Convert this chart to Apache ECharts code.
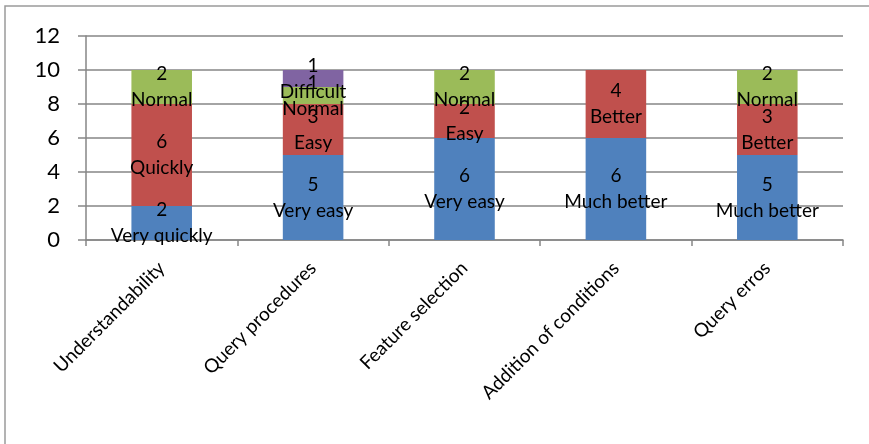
<!DOCTYPE html>
<html>
<head>
<meta charset="utf-8">
<script src="https://cdn.jsdelivr.net/npm/echarts@6/dist/echarts.min.js"></script>
<style>
  html, body { margin: 0; padding: 0; background: #fff; }
  #chart { width: 869px; height: 444px; }
</style>
</head>
<body>
<div id="chart"></div>
<script>
// Survey ratings per aspect of the query tool
const categories = ['Understandability', 'Query procedures', 'Feature selection', 'Addition of conditions', 'Query erros'];

// Counts of answers per rating level (null = no answers)
const level1Values = [2, 5, 6, 6, 5];
const level2Values = [6, 3, 2, 4, 3];
const level3Values = [2, 1, 2, null, 2];
const level4Values = [null, 1, null, null, null];

// Wording of each rating level, per aspect
const level1Names = ['Very quickly', 'Very easy', 'Very easy', 'Much better', 'Much better'];
const level2Names = ['Quickly', 'Easy', 'Easy', 'Better', 'Better'];
const level3Names = ['Normal', 'Normal', 'Normal', '', 'Normal'];
const level4Names = ['', 'Difficult', '', '', ''];

const yTicks = { min: 0, max: 12, interval: 2 };

const colors = ['#4F81BD', '#C0504D', '#9BBB59', '#8064A2'];
const FONT = 'Lato, "Open Sans", sans-serif';

function makeSeries(values, names, color) {
  return {
    type: 'bar',
    stack: 'total',
    barWidth: '40%',
    data: values,
    itemStyle: { color: color },
    label: {
      show: true,
      position: 'inside',
      color: '#000',
      fontFamily: FONT,
      fontSize: 19,
      lineHeight: 26,
      formatter: function (p) {
        if (p.value == null) return '';
        return p.value + '\n' + names[p.dataIndex];
      }
    }
  };
}

const chart = echarts.init(document.getElementById('chart'));
chart.setOption({
  animation: false,
  backgroundColor: '#fff',
  graphic: [{
    type: 'rect',
    shape: { x: 5, y: 6, width: 900, height: 500 },
    style: { fill: 'none', stroke: '#9a9a9a', lineWidth: 1.5 },
    silent: true,
    z: -1
  }],
  grid: { left: 86, right: 26, top: 36, bottom: 204, containLabel: false },
  xAxis: {
    type: 'category',
    data: categories,
    axisLine: { lineStyle: { color: '#868686', width: 1.5 } },
    axisTick: { show: true, length: 6, lineStyle: { color: '#868686', width: 1.5 } },
    axisLabel: {
      rotate: 45,
      interval: 0,
      margin: 25,
      color: '#000',
      fontFamily: FONT,
      fontSize: 19
    }
  },
  yAxis: {
    type: 'value',
    min: yTicks.min,
    max: yTicks.max,
    interval: yTicks.interval,
    axisLine: { show: true, lineStyle: { color: '#868686', width: 1.5 } },
    axisTick: { show: true, length: 8, lineStyle: { color: '#868686', width: 1.5 } },
    splitLine: { lineStyle: { color: '#868686', width: 1.5 } },
    axisLabel: {
      color: '#000',
      fontFamily: FONT,
      fontSize: 22,
      margin: 26
    }
  },
  series: [
    makeSeries(level1Values, level1Names, colors[0]),
    makeSeries(level2Values, level2Names, colors[1]),
    makeSeries(level3Values, level3Names, colors[2]),
    makeSeries(level4Values, level4Names, colors[3])
  ]
});
</script>
</body>
</html>
